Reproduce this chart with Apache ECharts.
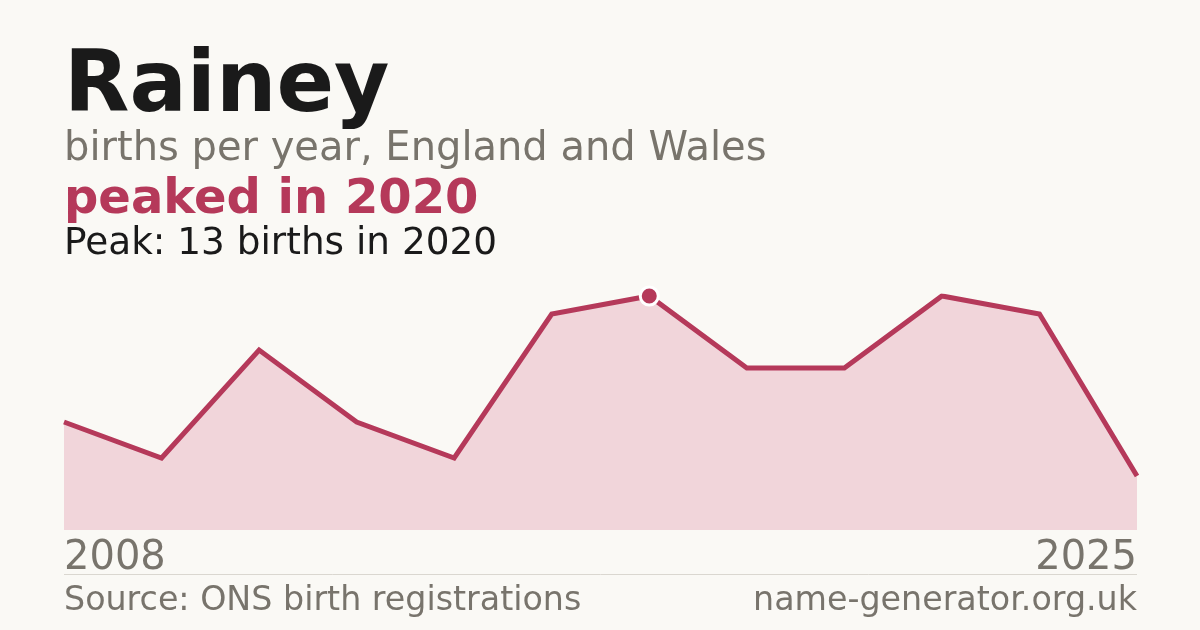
<!DOCTYPE html>
<html>
<head>
<meta charset="utf-8">
<script src="https://cdn.jsdelivr.net/npm/echarts@6/dist/echarts.min.js"></script>
<style>
  html, body { margin: 0; padding: 0; background: #faf9f5; }
  #chart { width: 1200px; height: 630px; }
</style>
</head>
<body>
<div id="chart"></div>
<script>
var years = ['2008', '2010', '2012', '2014', '2016', '2018', '2020', '2021', '2022', '2023', '2024', '2025'];
var births = [6, 4, 10, 6, 4, 12, 13, 9, 9, 13, 12, 3];

var accent = '#b5395a';
var grey = '#78746c';
var font = 'DejaVu Sans';

// first highest year gets the marker
var peakIdx = 0;
for (var i = 1; i < births.length; i++) {
    if (births[i] > births[peakIdx]) peakIdx = i;
}

var myChart = echarts.init(document.getElementById('chart'));

var option = {
    backgroundColor: '#faf9f5',
    animation: false,
    grid: { left: 64, right: 63, top: 296, bottom: 100 },
    xAxis: {
        type: 'category',
        data: years,
        boundaryGap: false,
        axisLine: { show: false },
        axisTick: { show: false },
        splitLine: { show: false },
        axisLabel: {
            interval: function (idx) { return idx === 0 || idx === years.length - 1; },
            showMinLabel: true,
            showMaxLabel: true,
            alignMinLabel: 'left',
            alignMaxLabel: 'right',
            verticalAlign: 'middle',
            margin: 29,
            color: grey,
            fontFamily: font,
            fontSize: 40
        }
    },
    yAxis: {
        type: 'value',
        min: 0,
        max: 13,
        show: false
    },
    series: [
        {
            type: 'line',
            data: births,
            showSymbol: false,
            lineStyle: { color: accent, width: 5, join: 'miter' },
            areaStyle: { color: '#f1d5da', opacity: 1 },
            z: 2
        },
        {
            type: 'scatter',
            data: [[peakIdx, births[peakIdx]]],
            symbol: 'circle',
            symbolSize: 18,
            itemStyle: { color: accent, opacity: 1, borderColor: '#ffffff', borderWidth: 3 },
            z: 3
        }
    ],
    graphic: [
        { type: 'text', x: 64, y: 89, style: { text: 'Rainey', font: 'bold 85px "DejaVu Sans"', fill: '#1a1a1a', verticalAlign: 'middle' } },
        { type: 'text', x: 64, y: 150, style: { text: 'births per year, England and Wales', font: '40px "DejaVu Sans"', fill: grey, verticalAlign: 'middle' } },
        { type: 'text', x: 64, y: 201, style: { text: 'peaked in ' + years[peakIdx], font: 'bold 48px "DejaVu Sans"', fill: accent, verticalAlign: 'middle' } },
        { type: 'text', x: 64, y: 244, style: { text: 'Peak: ' + births[peakIdx] + ' births in ' + years[peakIdx], font: '37.4px "DejaVu Sans"', fill: '#1a1a1a', verticalAlign: 'middle' } },
        { type: 'line', shape: { x1: 64, y1: 574.5, x2: 1137, y2: 574.5 }, style: { stroke: '#dad7d0', lineWidth: 1 } },
        { type: 'text', x: 64, y: 601, style: { text: 'Source: ONS birth registrations', font: '33.3px "DejaVu Sans"', fill: grey, verticalAlign: 'middle' } },
        { type: 'text', x: 1137, y: 601, style: { text: 'name-generator.org.uk', font: '33.3px "DejaVu Sans"', fill: grey, align: 'right', verticalAlign: 'middle' } }
    ]
};

myChart.setOption(option);
</script>
</body>
</html>
